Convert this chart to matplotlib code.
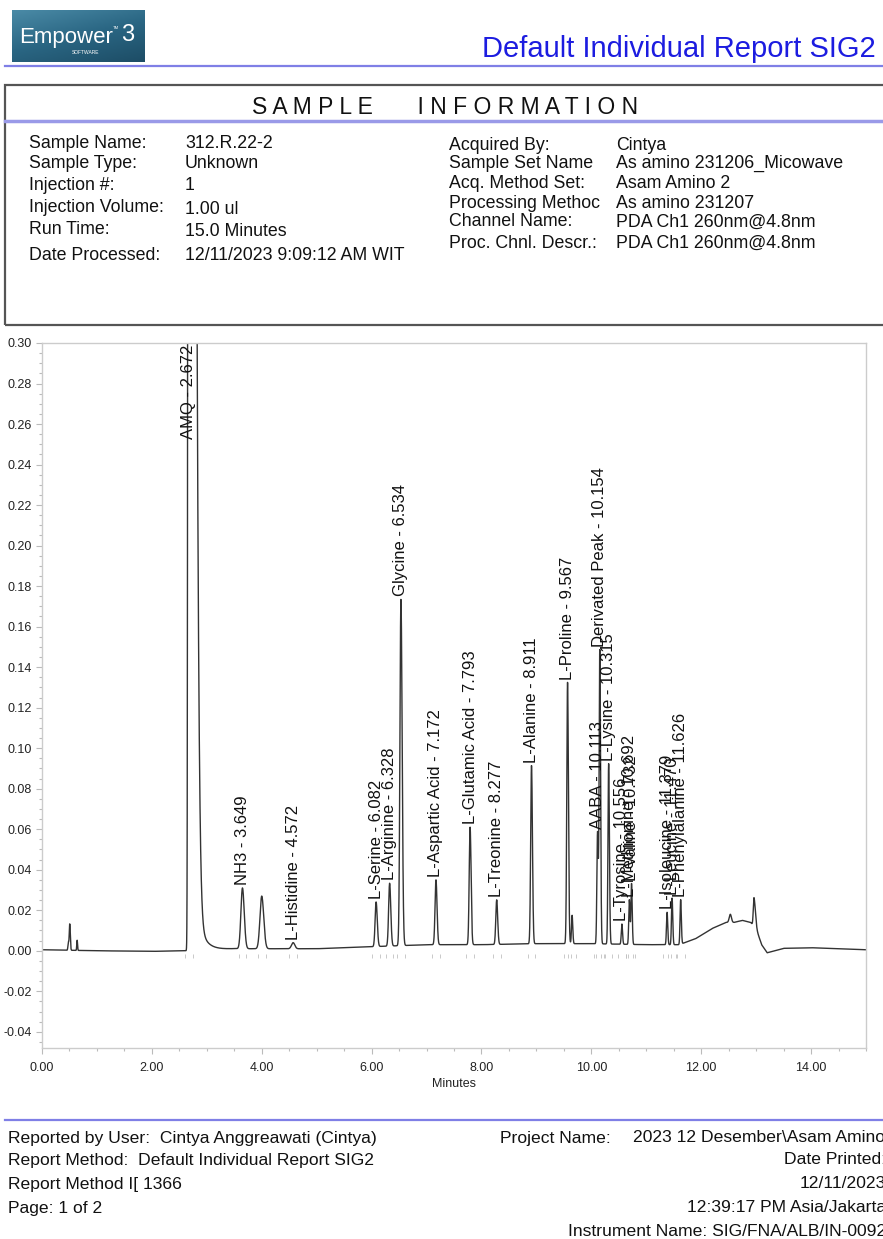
import numpy as np
import matplotlib
matplotlib.use("Agg")
import matplotlib.pyplot as plt
from matplotlib.patches import Rectangle
from matplotlib.lines import Line2D
from matplotlib.colors import LinearSegmentedColormap
from matplotlib.ticker import MultipleLocator, FormatStrFormatter

plt.rcParams['font.family'] = ['Liberation Sans', 'DejaVu Sans']

W, H = 883, 1239

# --- labelled peaks (name, retention time, height above baseline, sigma left/right) ---
peak_names = ["AMQ", "NH3", "L-Histidine", "L-Serine", "L-Arginine", "Glycine",
              "L-Aspartic Acid", "L-Glutamic Acid", "L-Treonine", "L-Alanine",
              "L-Proline", "AABA", "Derivated Peak", "L-Lysine", "L-Tyrosine",
              "L-Methionine", "L-Valine", "L-Isoleucine", "L-Leucine", "L-Phenylalanine"]
peak_rt = [2.672, 3.649, 4.572, 6.082, 6.328, 6.534, 7.172, 7.793, 8.277, 8.911,
           9.567, 10.113, 10.154, 10.315, 10.556, 10.692, 10.732, 11.379, 11.470, 11.626]
peak_height = [2.0, 0.030, 0.003, 0.022, 0.031, 0.171, 0.032, 0.058, 0.022, 0.088,
               0.129, 0.055, 0.145, 0.089, 0.010, 0.022, 0.030, 0.016, 0.023, 0.022]
peak_sigma_l = [0.011, 0.028, 0.03, 0.018, 0.018, 0.018, 0.017, 0.016, 0.016, 0.015,
                0.014, 0.012, 0.012, 0.012, 0.011, 0.011, 0.011, 0.011, 0.011, 0.011]
peak_sigma_r = [0.077, 0.032, 0.03, 0.021, 0.021, 0.022, 0.019, 0.018, 0.018, 0.017,
                0.016, 0.013, 0.014, 0.014, 0.012, 0.012, 0.012, 0.012, 0.012, 0.012]

# AMQ tailing after the apex
amq_tail_start, amq_tail_amp, amq_tail_tau = 2.672, 0.066, 0.12

# --- unlabelled peaks ---
extra_rt = [0.48, 0.505, 0.64, 4.00, 9.65, 12.53, 12.96]
extra_height = [0.004, 0.013, 0.005, 0.026, 0.014, 0.004, 0.014]
extra_sigma_l = [0.008, 0.009, 0.007, 0.032, 0.011, 0.02, 0.012]
extra_sigma_r = [0.008, 0.010, 0.007, 0.036, 0.012, 0.02, 0.025]

# --- baseline drift ---
base_t = [0.0, 1.0, 2.0, 2.6, 3.5, 5.0, 6.0, 7.0, 8.0, 9.0, 10.0, 11.0, 11.6,
          11.9, 12.2, 12.45, 12.6, 12.75, 12.9, 13.0, 13.1, 13.2, 13.5, 14.0, 15.0]
base_v = [0.0005, 0.0, -0.0003, 0.0, 0.001, 0.001, 0.002, 0.003, 0.003, 0.0035,
          0.0035, 0.003, 0.003, 0.006, 0.011, 0.014, 0.014, 0.015, 0.014, 0.011,
          0.003, -0.001, 0.0012, 0.0015, 0.0005]

# --- report texts ---
info_left = [("Sample Name:", "312.R.22-2", 144), ("Sample Type:", "Unknown", 163),
             ("Injection #:", "1", 186), ("Injection Volume:", "1.00 ul", 208),
             ("Run Time:", "15.0 Minutes", 230), ("Date Processed:", "12/11/2023 9:09:12 AM WIT", 256)]
info_right = [("Acquired By:", "Cintya", 145), ("Sample Set Name", "As amino 231206_Micowave", 163),
              ("Acq. Method Set:", "Asam Amino 2", 183), ("Processing Methoc", "As amino 231207", 203),
              ("Channel Name:", "PDA Ch1 260nm@4.8nm", 222), ("Proc. Chnl. Descr.:", "PDA Ch1 260nm@4.8nm", 243)]
footer_left = [("Reported by User:  Cintya Anggreawati (Cintya)", 1138),
               ("Report Method:  Default Individual Report SIG2", 1161),
               ("Report Method I[ 1366", 1184), ("Page: 1 of 2", 1208)]
footer_right = [("Date Printed:", 1160), ("12/11/2023", 1184),
                ("12:39:17 PM Asia/Jakarta", 1208), ("Instrument Name: SIG/FNA/ALB/IN-0092", 1231)]


def fx(x):
    return x / W


def fy(y):
    return 1 - y / H


fig = plt.figure(figsize=(W / 100, H / 100), dpi=100)

# header logo
lax = fig.add_axes([fx(12), fy(62), 133 / W, 52 / H])
cmap = LinearSegmentedColormap.from_list("logo", ["#4a8aa6", "#2a6683", "#1d4d66"])
grad = np.add.outer(np.linspace(0, 1, 40), np.linspace(0, 0.6, 100))
lax.imshow(grad, cmap=cmap, aspect='auto', extent=[0, 1, 0, 1])
lax.set_axis_off()
fig.text(fx(19), fy(38), "Empower", color="white", fontsize=16, va='center', ha='left')
fig.text(fx(121), fy(35), "3", color="white", fontsize=17, va='center', ha='left')
fig.text(fx(113), fy(28), "TM", color="white", fontsize=3, va='center', ha='left')
fig.text(fx(86), fy(52), "SOFTWARE", color="white", fontsize=3.5, va='center', ha='center')

fig.text(fx(876), fy(49), "Default Individual Report SIG2", color="#1c1ce0",
         fontsize=21, ha='right', va='center')
fig.add_artist(Line2D([fx(5), 1], [fy(66), fy(66)], color="#7f7fe6", lw=1.6))

# sample information box
fig.add_artist(Rectangle((fx(5), fy(325)), 1.0, (325 - 85) / H, facecolor='none',
                         edgecolor='#555555', lw=1.6))
fig.text(fx(445), fy(107), "S A M P L E       I N F O R M A T I O N", fontsize=16.5,
         ha='center', va='center', color='#111111')
fig.add_artist(Line2D([fx(5), 1], [fy(121), fy(121)], color="#9a9ae8", lw=2.5))

for lab, val, y in info_left:
    fig.text(fx(29), fy(y), lab, fontsize=12.8, ha='left', va='center', color='#111111')
    fig.text(fx(185), fy(y + 2 if lab in ("Injection Volume:", "Run Time:") else y), val,
             fontsize=12.8, ha='left', va='center', color='#111111')
for lab, val, y in info_right:
    fig.text(fx(449), fy(y), lab, fontsize=12.8, ha='left', va='center', color='#111111')
    fig.text(fx(616), fy(y), val, fontsize=12.8, ha='left', va='center', color='#111111')

# chromatogram
t = np.linspace(0, 15, 9001)
y = np.interp(t, base_t, base_v)
for rt, h, sl, sr in zip(peak_rt + extra_rt, peak_height + extra_height,
                         peak_sigma_l + extra_sigma_l, peak_sigma_r + extra_sigma_r):
    s = np.where(t < rt, sl, sr)
    y = y + h * np.exp(-0.5 * ((t - rt) / s) ** 2)
y = y + np.where(t >= amq_tail_start, amq_tail_amp * np.exp(-(t - amq_tail_start) / amq_tail_tau), 0)

ax = fig.add_axes([fx(42), fy(1048), (866 - 42) / W, (1048 - 343) / H])
ax.plot(t, y, color='#333333', lw=1.0)
ax.set_xlim(0, 15)
ax.set_ylim(-0.048, 0.30)

ymax = 0.30
for name, rt in zip(peak_names, peak_rt):
    apex = np.interp(rt, t, y)
    label = f"{name} - {rt:.3f}"
    if apex > ymax:
        ax.text(rt, ymax - 0.001, label, rotation=90, ha='center', va='top',
                fontsize=12, color='#111111')
    else:
        ax.text(rt, apex + 0.0015, label, rotation=90, ha='center', va='bottom',
                fontsize=12, color='#111111')

# integration marks under the peaks
marks = [rt + d for rt in peak_rt + extra_rt[3:5] for d in (-0.07, 0.07)]
ax.plot(marks, [-0.0025] * len(marks), ls='none', marker='|', ms=2.5, color='#c0c0c0', mew=0.6)

ax.xaxis.set_major_locator(MultipleLocator(2))
ax.xaxis.set_minor_locator(MultipleLocator(0.5))
ax.yaxis.set_major_locator(MultipleLocator(0.02))
ax.yaxis.set_minor_locator(MultipleLocator(0.005))
ax.xaxis.set_major_formatter(FormatStrFormatter('%.2f'))
ax.yaxis.set_major_formatter(FormatStrFormatter('%.2f'))
ax.tick_params(which='both', colors='#bbbbbb', labelcolor='#222222', labelsize=9, width=0.8)
ax.tick_params(which='major', length=4)
ax.tick_params(which='minor', length=2)
ax.tick_params(axis='x', pad=6)
for sp in ax.spines.values():
    sp.set_color('#cccccc')
    sp.set_linewidth(1.0)
ax.set_xlabel("Minutes", fontsize=9, color='#222222', labelpad=3)

# footer
fs = 12.6
fig.add_artist(Line2D([fx(5), 1], [fy(1120), fy(1120)], color="#7f7fe6", lw=1.6))
for txt, y0 in footer_left:
    fig.text(fx(8), fy(y0), txt, fontsize=fs, ha='left', va='center', color='#111111')
fig.text(fx(500), fy(1138), "Project Name:", fontsize=fs, ha='left', va='center', color='#111111')
fig.text(fx(633), fy(1138), "2023 12 Desember\\Asam Amino 2", fontsize=fs, ha='left', va='center',
         color='#111111')
for txt, y0 in footer_right:
    fig.text(fx(886), fy(y0), txt, fontsize=fs, ha='right', va='center', color='#111111')

fig.savefig("out.png", dpi=100)
